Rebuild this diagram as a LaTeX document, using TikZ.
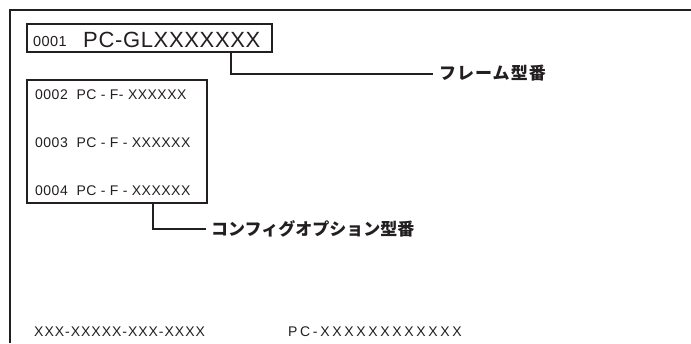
\documentclass[tikz,border=0pt]{standalone}
\usepackage{fontspec}
\setmainfont{Liberation Sans}
\newfontfamily\jpfont{Noto Sans CJK JP}
\definecolor{ink}{HTML}{231F20}
\begin{document}
\begin{tikzpicture}[x=1pt,y=-1pt,
  frame/.style={draw=ink,line width=1.6pt},
  box/.style={draw=ink,line width=1.6pt,rectangle,inner sep=0pt},
  conn/.style={draw=ink,line width=1.6pt},
  txt/.style={anchor=base west,inner sep=0pt,text=ink},
  jlbl/.style={anchor=west,inner sep=0pt,text=ink,font=\jpfont\bfseries\fontsize{17}{19}\selectfont},
  rowtxt/.style={txt,font=\fontsize{14}{16}\selectfont\addfontfeature{LetterSpace=3.5}}]
\useasboundingbox (0,0) rectangle (691,343);
\fill[white] (0,0) rectangle (691,343);
% outer frame (top and left edges)
\draw[frame] (10,343) -- (10,10) -- (691,10);
% box 1
\node[box,minimum width=245pt,minimum height=28pt] (box1) at (149.5,38) {};
\node[txt,font=\fontsize{14.5}{16}\selectfont\addfontfeature{LetterSpace=3}] (t1a) at (33,46) {0001};
\node[txt,font=\fontsize{22}{24}\selectfont\addfontfeature{LetterSpace=3}] (t1b) at (83,47) {PC-GLXXXXXXX};
% box 2
\node[box,minimum width=180pt,minimum height=123pt] (box2) at (117,141.5) {};
\node[rowtxt] (r2) at (35,99) {0002~~PC - F- XXXXXX};
\node[rowtxt] (r3) at (35,147) {0003~~PC - F - XXXXXX};
\node[rowtxt] (r4) at (35,195) {0004~~PC - F - XXXXXX};
% labels
\node[jlbl,font=\jpfont\bfseries\fontsize{17}{19}\selectfont\addfontfeature{LetterSpace=6}] (lab1) at (439,73) {フレーム型番};
\node[jlbl] (lab2) at (211,229) {コンフィグオプション型番};
\coordinate (k1) at (231,74);
\coordinate (k2) at (153,229);
\draw[conn] (box1.south -| k1) |- ([xshift=-6pt]lab1.west |- k1);
\draw[conn] (box2.south -| k2) |- ([xshift=-5pt]lab2.west |- k2);
% bottom texts
\node[txt,font=\fontsize{14}{16}\selectfont\addfontfeature{LetterSpace=7}] (b1) at (34,336) {XXX-XXXXX-XXX-XXXX};
\node[txt,font=\fontsize{14}{16}\selectfont\addfontfeature{LetterSpace=19}] (b2) at (288,336) {PC-XXXXXXXXXXXX};
\end{tikzpicture}
\end{document}
